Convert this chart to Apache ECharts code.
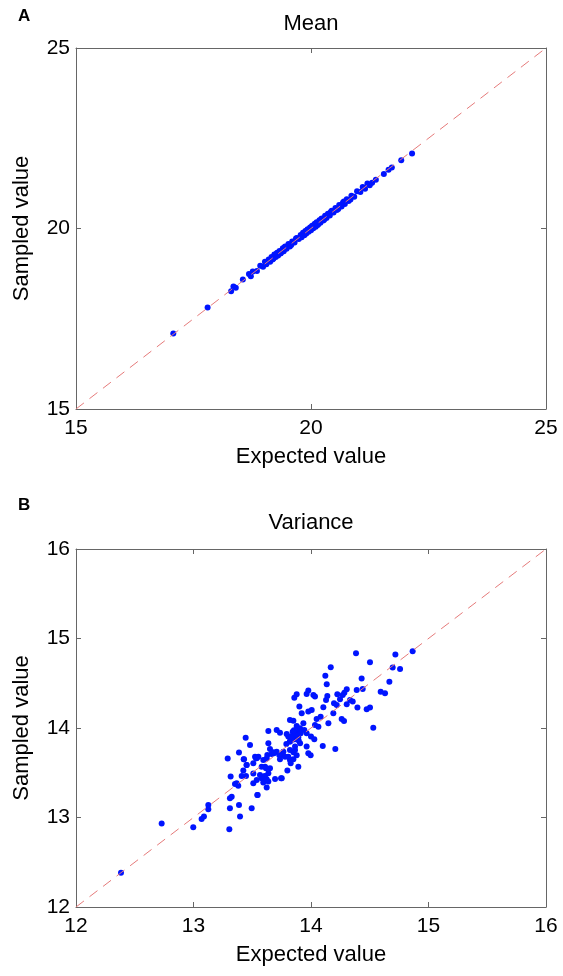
<!DOCTYPE html>
<html>
<head>
<meta charset="utf-8">
<script src="https://cdn.jsdelivr.net/npm/echarts@6/dist/echarts.min.js"></script>
<style>
html,body{margin:0;padding:0;background:#fff;}
#chart{width:563px;height:976px;}
</style>
</head>
<body>
<div id="chart"></div>
<script>
// ---- Data ----
const meanExpected = [17.07,17.80,18.30,18.35,18.40,18.55,18.68,18.72,18.76,18.85,18.92,18.98,19.02,19.05,19.10,19.13,19.16,19.20,19.22,19.25,19.28,19.30,19.33,19.36,19.40,19.42,19.45,19.48,19.52,19.55,19.60,19.65,19.70,19.74,19.78,19.80,19.83,19.86,19.88,19.90,19.93,19.95,19.98,20.00,20.02,20.05,20.08,20.10,20.12,20.15,20.18,20.20,20.23,20.26,20.30,20.33,20.36,20.40,20.44,20.48,20.52,20.55,20.60,20.65,20.70,20.72,20.76,20.80,20.86,20.92,20.98,21.05,21.10,21.15,21.20,21.25,21.30,21.38,21.55,21.65,21.72,21.92,22.15,
  19.18,19.27,19.35,19.44,19.58,19.68,19.85,19.92,20.04,20.14,20.22,20.28,20.42,20.58,20.68,20.84];
const meanSampled  = [17.09,17.81,18.26,18.39,18.36,18.59,18.74,18.68,18.81,18.82,18.97,18.94,19.08,19.01,19.14,19.08,19.21,19.16,19.28,19.21,19.33,19.25,19.38,19.32,19.45,19.37,19.50,19.44,19.57,19.50,19.64,19.61,19.74,19.71,19.82,19.76,19.88,19.82,19.93,19.86,19.98,19.91,20.03,19.95,20.07,20.01,20.13,20.05,20.17,20.11,20.23,20.16,20.28,20.22,20.35,20.29,20.41,20.36,20.49,20.44,20.57,20.51,20.65,20.61,20.75,20.68,20.81,20.76,20.91,20.88,21.03,21.01,21.15,21.10,21.25,21.20,21.27,21.35,21.51,21.63,21.69,21.89,22.08,
  19.14,19.31,19.31,19.48,19.54,19.72,19.81,19.96,20.08,20.10,20.26,20.24,20.46,20.54,20.72,20.80];

const varExpected = [
12.383,12.729,12.998,13.069,13.089,13.126,13.126,13.305,13.310,13.325,13.310,13.387,13.396,13.291,13.316,13.353,13.381,13.410,13.447,13.424,13.387,13.427,13.452,13.444,
13.793,13.807,13.850,13.878,13.836,13.864,13.892,13.844,13.821,13.907,13.864,13.821,13.765,13.637,13.651,13.680,13.708,13.751,13.779,13.481,13.524,13.538,13.594,13.623,13.509,13.821,13.850,13.827,13.892,13.799,13.807,13.850,13.878,13.609,13.651,13.637,13.609,13.580,13.694,13.751,13.538,13.509,13.637,13.594,13.623,13.543,13.495,
14.383,14.718,14.865,14.502,14.168,14.695,14.758,14.122,14.431,14.134,14.667,14.593,14.630,14.304,14.284,14.270,14.389,14.440,13.977,13.963,13.878,13.858,14.020,14.034,14.139,14.128,14.224,14.247,14.196,14.219,14.332,14.355,14.304,14.105,14.395,14.474,14.502,13.901,13.977,14.006,13.921,14.190,14.082,14.048,13.821,13.850,13.935,14.261,14.281,14.148,14.034,14.063,14.530,13.878,13.907,13.637,13.708,13.736,13.943,13.963,14.000,14.028,14.100,14.207,13.963,13.977,13.997,
13.430,13.552,13.532,13.628,13.665,13.685,13.730,13.736,13.580,13.617,13.452,13.509,13.566,13.600,13.623,13.745,13.367,13.546,13.821,13.864,13.850,13.870,13.885,13.855,13.840,13.895,13.830,13.900,13.912,13.790];
const varSampled = [
12.384,12.932,12.891,12.984,13.010,13.092,13.140,12.868,13.103,13.233,13.215,13.140,13.010,13.658,13.457,13.375,13.356,13.464,13.464,13.524,13.725,13.650,13.587,13.892,
13.933,13.904,13.922,13.941,13.885,13.874,13.896,13.959,13.848,13.829,13.792,13.755,13.736,13.829,13.766,13.729,13.736,13.699,13.680,13.811,13.680,13.662,13.643,13.658,13.606,13.643,13.650,13.606,13.568,13.524,13.680,13.729,13.695,13.568,13.550,13.494,13.464,13.438,13.431,13.438,13.420,13.382,13.401,13.390,13.334,13.252,13.103,
14.835,14.820,14.857,14.734,14.678,14.675,14.660,14.585,14.552,14.488,14.518,14.406,14.388,14.432,14.395,14.369,14.425,14.436,14.418,14.380,14.377,14.339,14.369,14.351,14.358,14.313,14.377,14.321,14.276,14.258,14.313,14.295,14.265,14.231,14.228,14.209,14.228,14.239,14.183,14.202,14.164,14.164,14.127,14.101,14.090,14.082,14.053,14.101,14.079,14.053,14.034,14.015,14.004,14.023,13.997,13.967,13.978,13.948,13.978,13.941,13.904,13.874,13.799,13.766,13.792,13.717,13.695,
13.650,13.680,13.661,13.699,13.710,13.717,13.699,13.650,13.568,13.550,13.587,13.493,13.475,13.457,13.427,13.438,13.382,13.252,13.848,13.754,13.903,13.950,13.915,13.975,13.870,13.860,13.905,13.985,13.940,13.820];

const meanTicks = [15, 20, 25];
const varTicks = [12, 13, 14, 15, 16];

const chart = echarts.init(document.getElementById('chart'), null, {renderer:'canvas'});

const FONT = 'Liberation Sans, Arial, sans-serif';
const frameColor = '#666';

function zip(a, b){ return a.map((v,i)=>[v,b[i]]); }

function axisPair(gridIndex, min, max, interval, kind){
  const main = {
    type:'value', gridIndex, min, max, interval,
    axisLine:{show:true, onZero:false, lineStyle:{color:frameColor, width:1}},
    axisTick:{show:true, inside:true, length:5, lineStyle:{color:frameColor}},
    splitLine:{show:false},
    axisLabel:{show:true, color:'#000', fontSize:21, fontFamily:FONT, margin: kind==='x'?9:6},
    name: kind==='x' ? 'Expected value' : 'Sampled value',
    nameLocation:'middle',
    nameGap: kind==='x' ? 37 : 43,
    nameTextStyle:{color:'#000', fontSize:22, fontFamily:FONT}
  };
  const opp = {
    type:'value', gridIndex, min, max, interval,
    position: kind==='x' ? 'top' : 'right',
    axisLine:{show:true, onZero:false, lineStyle:{color:frameColor, width:1}},
    axisTick:{show:true, inside:true, length:5, lineStyle:{color:frameColor}},
    splitLine:{show:false},
    axisLabel:{show:false}
  };
  return [main, opp];
}

const x0 = axisPair(0, 15, 25, 5, 'x');
const y0 = axisPair(0, 15, 25, 5, 'y');
const x1 = axisPair(1, 12, 16, 1, 'x');
const y1 = axisPair(1, 12, 16, 1, 'y');

const dotStyle = {color:'#0014ff', opacity:1};
const lineStyle = {color:'#e57a7a', width:1, type:[10,7]};

chart.setOption({
  animation:false,
  backgroundColor:'#fff',
  grid:[
    {left:76, top:48, width:470, height:361},
    {left:76, top:549, width:470, height:358}
  ],
  xAxis:[x0[0], x0[1], x1[0], x1[1]],
  yAxis:[y0[0], y0[1], y1[0], y1[1]],
  graphic:[
    {type:'text', left:18, top:8, style:{text:'A', font:'bold 17px '+FONT, fill:'#000'}},
    {type:'text', x:311, y:24, style:{text:'Mean', font:'22px '+FONT, fill:'#000', textAlign:'center', textVerticalAlign:'middle'}},
    {type:'text', left:18, top:497, style:{text:'B', font:'bold 17px '+FONT, fill:'#000'}},
    {type:'text', x:311, y:523, style:{text:'Variance', font:'22px '+FONT, fill:'#000', textAlign:'center', textVerticalAlign:'middle'}}
  ],
  series:[
    {type:'scatter', xAxisIndex:0, yAxisIndex:0, data:zip(meanExpected, meanSampled), symbolSize:6, itemStyle:dotStyle, z:2},
    {type:'line', xAxisIndex:0, yAxisIndex:0, data:[[meanTicks[0],meanTicks[0]],[meanTicks[2],meanTicks[2]]], symbol:'none', lineStyle:lineStyle, z:3, silent:true},
    {type:'scatter', xAxisIndex:2, yAxisIndex:2, data:zip(varExpected, varSampled), symbolSize:6, itemStyle:dotStyle, z:2},
    {type:'line', xAxisIndex:2, yAxisIndex:2, data:[[varTicks[0],varTicks[0]],[varTicks[4],varTicks[4]]], symbol:'none', lineStyle:lineStyle, z:3, silent:true}
  ]
});
</script>
</body>
</html>
